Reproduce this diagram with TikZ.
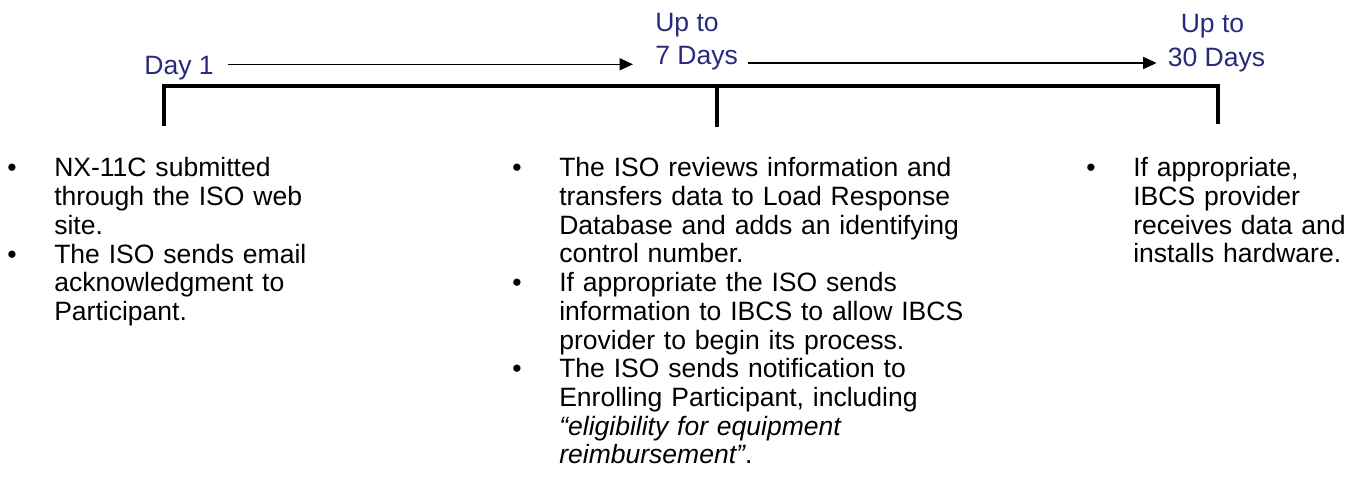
\documentclass[tikz,border=0pt]{standalone}
\usepackage{fontspec}
\setmainfont{Liberation Sans}
\usepackage{tikz}
\usetikzlibrary{arrows.meta,positioning,calc}
\definecolor{navy}{HTML}{2A2A7C}

\begin{document}
\begin{tikzpicture}[
  x=0.75pt,y=-0.75pt,
  lbl/.style={inner sep=0pt,anchor=base,color=navy,font=\fontsize{19.9}{24}\selectfont},
  item/.style={inner sep=0pt,anchor=base west,text width=330pt,align=left,font=\fontsize{19.9}{21.5}\selectfont},
  bul/.style={inner sep=0pt,anchor=base,font=\fontsize{19.9}{21.5}\selectfont},
  arr/.style={-{Triangle[length=10pt,width=9pt]},line width=1pt},
  brk/.style={line width=3pt,line join=miter}
]
\useasboundingbox (0,0) rectangle (1350,488);
% time labels
\node[lbl] (d1) at (179,74.3) {Day 1};
\node[lbl,anchor=base west] (d7a) at (655,32) {Up to};
\node[lbl,anchor=base west] (d7) at (655,65) {7 Days};
\node[lbl] (d30a) at (1212.5,33) {Up to};
\node[lbl] (d30) at (1216.5,67) {30 Days};
\draw[arr] ([shift={(10.5pt,7.5pt)}]d1.base east) -- ($(d1.base east -| d7.west)+(-16.5pt,7.5pt)$);
\draw[arr] ([shift={(7.5pt,1.5pt)}]d7.base east) -- ($(d7.base east -| d30.west)+(-8.25pt,1.5pt)$);
% bracket
\coordinate (tk1) at (164,126);
\coordinate (tk2) at (717,127);
\coordinate (tk3) at (1218,124);
\coordinate (bar) at (0,86);
\draw[brk] (tk1) -- (tk1 |- bar) -- (tk3 |- bar) -- (tk3);
\draw[brk] (tk2) -- (tk2 |- bar);
% steps
\node[item] (c1a) at (54,177) {NX-11C submitted\\through the ISO web\\site.};
\node[item] (c1b) at (54,263.1) {The ISO sends email\\acknowledgment to\\Participant.};
\node[item] (c2a) at (559,177) {The ISO reviews information and\\transfers data to Load Response\\Database and adds an identifying\\control number.};
\node[item] (c2b) at (559,291.8) {If appropriate the ISO sends\\information to IBCS to allow IBCS\\provider to begin its process.};
\node[item] (c2c) at (559,377.9) {The ISO sends notification to\\Enrolling Participant, including\\\textit{“eligibility for equipment}\\\textit{reimbursement”}.};
\node[item] (c3a) at (1133,177) {If appropriate,\\IBCS provider\\receives data and\\installs hardware.};
\foreach \n in {c1a,c1b,c2a,c2b,c2c,c3a}
  \node[bul] (\n-b) at ([xshift=-31.5pt]\n.base west) {•};
\end{tikzpicture}
\end{document}
